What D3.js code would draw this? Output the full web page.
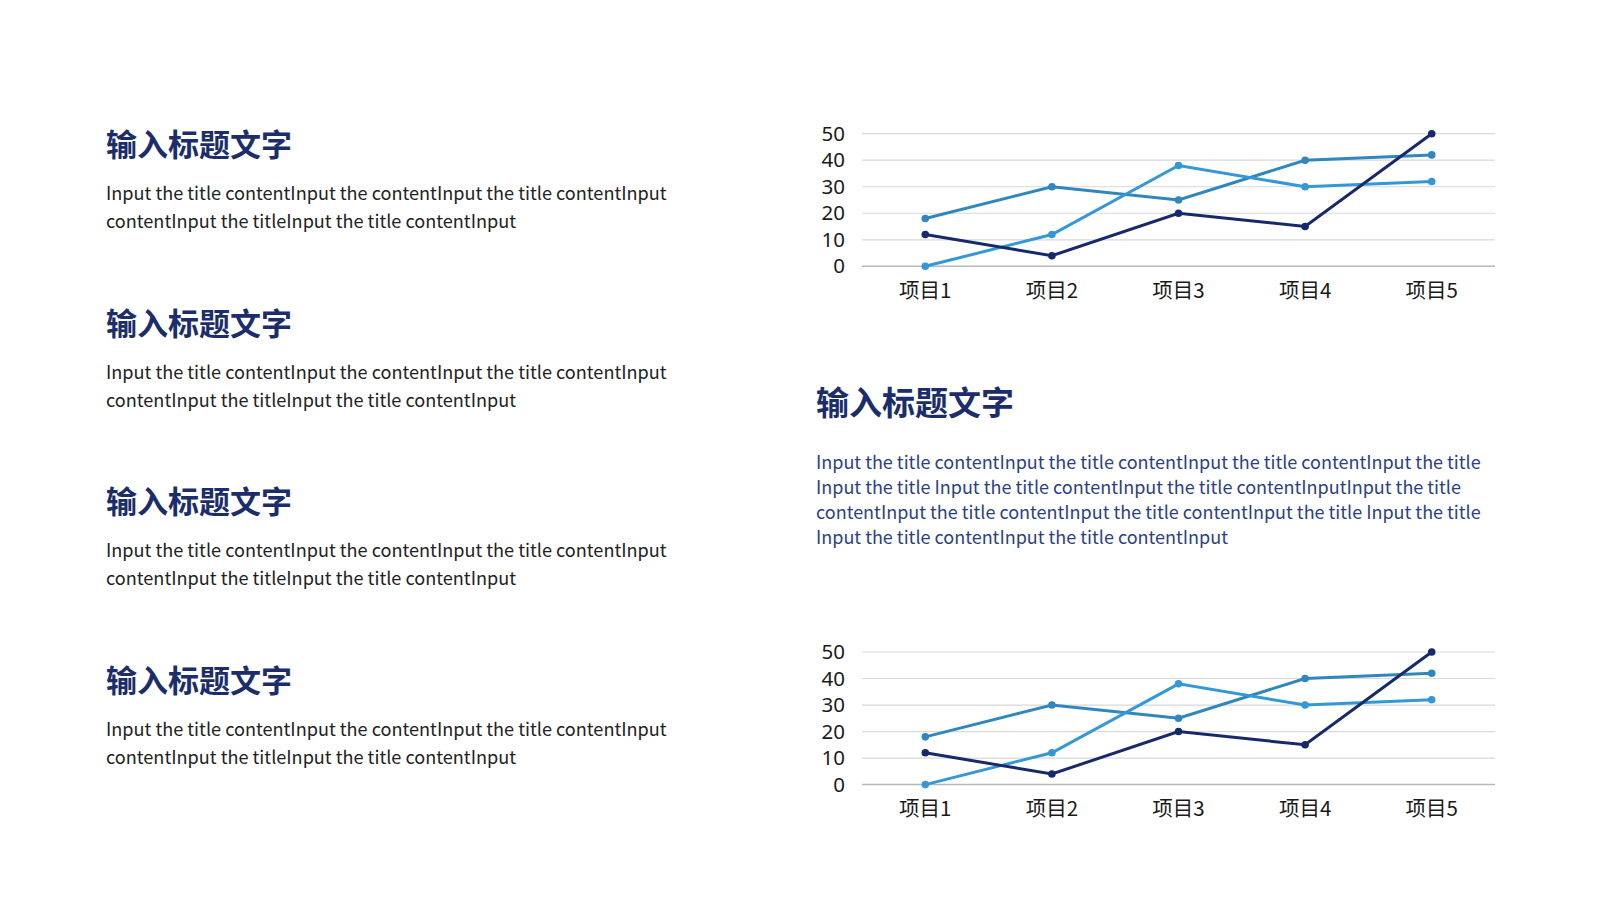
<!DOCTYPE html>
<html>
<head>
<meta charset="utf-8">
<script src="https://cdn.jsdelivr.net/npm/d3@7"></script>
<style>
  body { margin: 0; background: #fff; }
  svg { display: block; }
</style>
</head>
<body>
<svg id="page" width="1600" height="900"></svg>
<script>
/*global d3*/

var categories = ["项目1", "项目2", "项目3", "项目4", "项目5"];
var seriesDark = [12, 4, 20, 15, 50];
var seriesMid = [18, 30, 25, 40, 42];
var seriesLight = [0, 12, 38, 30, 32];
var yTicks = [0, 10, 20, 30, 40, 50];

var titleText = "输入标题文字";
var leftBody = [
    "Input the title contentInput the contentInput the title contentInput",
    "contentInput the titleInput the title contentInput"
];
var rightBody = [
    "Input the title contentInput the title contentInput the title contentInput the title",
    "Input the title Input the title contentInput the title contentInputInput the title",
    "contentInput the title contentInput the title contentInput the title Input the title",
    "Input the title contentInput the title contentInput"
];

var navy = "#1b2d6b";
var cjk = "'Noto Sans CJK SC', 'Noto Sans', sans-serif";

var svg = d3.select("#page");

// left column: four title blocks
d3.range(4).forEach(function (i) {
    var top = 156 + i * 178.6;
    svg.append("text")
        .attr("x", 106).attr("y", top)
        .attr("font-family", cjk)
        .attr("font-weight", "bold")
        .attr("font-size", 31)
        .attr("fill", navy)
        .text(titleText);
    var body = svg.append("text")
        .attr("x", 106).attr("y", top + 44)
        .attr("font-family", cjk)
        .attr("font-size", 18.1)
        .attr("fill", "#222");
    leftBody.forEach(function (line, j) {
        body.append("tspan").attr("x", 106).attr("dy", j === 0 ? 0 : 28).text(line);
    });
});

// right column middle text
svg.append("text")
    .attr("x", 816).attr("y", 415)
    .attr("font-family", cjk)
    .attr("font-weight", "bold")
    .attr("font-size", 33)
    .attr("fill", navy)
    .text(titleText);

var rb = svg.append("text")
    .attr("x", 816).attr("y", 469)
    .attr("font-family", cjk)
    .attr("font-size", 18)
    .attr("fill", "#2b3f86");
rightBody.forEach(function (line, j) {
    rb.append("tspan").attr("x", 816).attr("dy", j === 0 ? 0 : 24.9).text(line);
});

// line charts
function drawChart(top) {
    var left = 862, right = 1495, h = 132.6;
    var x = d3.scaleBand().domain(categories).range([left, right]);
    var y = d3.scaleLinear().domain([0, 50]).range([top + h, top]);
    var g = svg.append("g");

    g.selectAll(".grid")
        .data(yTicks)
        .enter().append("line")
        .attr("x1", left).attr("x2", right)
        .attr("y1", function (d) { return y(d); })
        .attr("y2", function (d) { return y(d); })
        .attr("stroke", function (d) { return d === 0 ? "#b8b8b8" : "#d9d9d9"; })
        .attr("stroke-width", function (d) { return d === 0 ? 1.5 : 1.2; });

    var yAxis = g.append("g")
        .attr("transform", "translate(845,0)")
        .call(d3.axisLeft(y).tickValues(yTicks).tickSize(0).tickPadding(0));
    yAxis.select(".domain").remove();
    yAxis.selectAll("text")
        .attr("font-family", "'Noto Sans', sans-serif")
        .attr("font-size", 20.5)
        .attr("fill", "#1a1a1a");

    var xAxis = g.append("g")
        .attr("transform", "translate(0," + (top + h) + ")")
        .call(d3.axisBottom(x).tickSize(0).tickPadding(17));
    xAxis.select(".domain").remove();
    xAxis.selectAll("text")
        .attr("font-family", "'Noto Sans CJK SC', sans-serif")
        .attr("font-size", 20.5)
        .attr("fill", "#1a1a1a");

    var line = d3.line()
        .x(function (d, i) { return x(categories[i]) + x.bandwidth() / 2; })
        .y(function (d) { return y(d); });

    var series = [
        { values: seriesMid, color: "#2f87bd" },
        { values: seriesLight, color: "#3498d6" },
        { values: seriesDark, color: "#16296b" }
    ];

    series.forEach(function (s) {
        g.append("path")
            .datum(s.values)
            .attr("d", line)
            .attr("fill", "none")
            .attr("stroke", s.color)
            .attr("stroke-width", 3);
        g.selectAll(null)
            .data(s.values)
            .enter().append("circle")
            .attr("cx", function (d, i) { return x(categories[i]) + x.bandwidth() / 2; })
            .attr("cy", function (d) { return y(d); })
            .attr("r", 3.8)
            .attr("fill", s.color);
    });
}

drawChart(133.7);
drawChart(652);
</script>
</body>
</html>
